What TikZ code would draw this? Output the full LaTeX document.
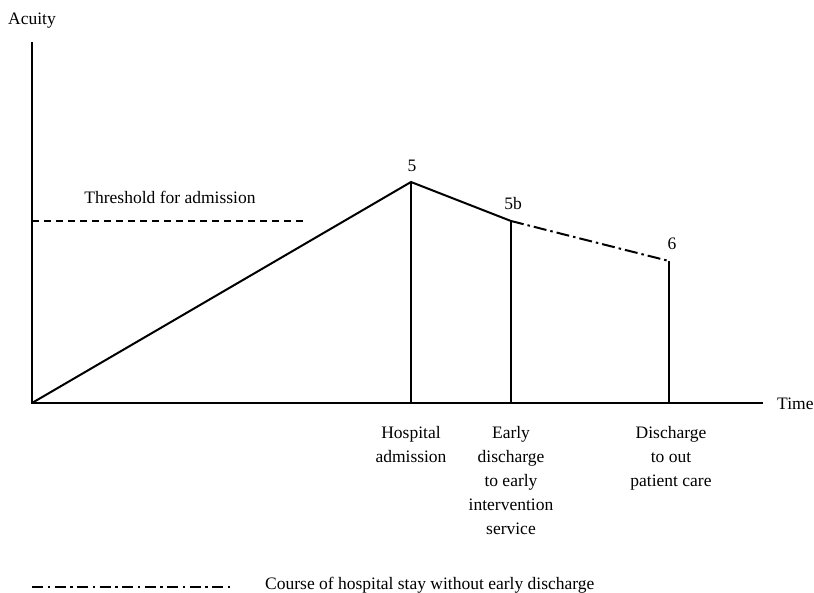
\documentclass[tikz,border=0pt]{standalone}
\usepackage{fontspec}
\setmainfont{Liberation Serif}
\begin{document}
\begin{tikzpicture}[x=1pt,y=-1pt,
  every node/.style={font=\fontsize{17.5}{24}\selectfont, inner sep=0pt},
  label/.style={anchor=base},
  caption/.style={anchor=north, align=center},
  axis/.style={line width=1.3pt},
  course/.style={line width=2pt},
  marker/.style={line width=1.3pt},
  threshold/.style={line width=1.3pt, dash pattern=on 7pt off 5pt},
  nodischarge/.style={line width=2pt, dash pattern=on 13pt off 4pt on 2.5pt off 4pt},
  legendline/.style={line width=2pt, dash pattern=on 11pt off 4.5pt on 2.5pt off 4.5pt}]
  \useasboundingbox (0,0) rectangle (814,592);

  % key points of the acuity curve
  \coordinate (O) at (32,403);
  \coordinate (ytop) at (32,42);
  \coordinate (xend) at (763,403);
  \coordinate (p5) at (411,182);
  \coordinate (p5b) at (511,221);
  \coordinate (p6) at (669,261);
  \coordinate (b5) at (411,403);
  \coordinate (b5b) at (511,403);
  \coordinate (b6) at (669,403);
  \coordinate (thA) at (32,221);
  \coordinate (thB) at (307,221);
  \coordinate (lgA) at (32,587);
  \coordinate (lgB) at (232,587);

  % axes
  \draw[axis] (ytop) -- (O) -- (xend);
  \node[label, anchor=base west] (acuity) at (8,24) {Acuity};
  \node[label, anchor=base west] (time) at (777,409) {Time};

  % admission threshold
  \draw[threshold] (thA) -- (thB);
  \node[label] (thlabel) at (170,203) {Threshold for admission};

  % course of acuity
  \draw[course] (O) -- (p5) -- (p5b);
  \draw[nodischarge] (p5b) -- (p6);
  \draw[marker] (p5) -- (b5);
  \draw[marker] (p5b) -- (b5b);
  \draw[marker] (p6) -- (b6);

  \node[label] (n5) at (412,171) {5};
  \node[label] (n5b) at (513,209) {5b};
  \node[label] (n6) at (672,249) {6};

  % events on the time axis
  \node[caption] (adm) at (411,426) {Hospital\\admission};
  \node[caption] (early) at (511,426) {Early\\discharge\\to early\\intervention\\service};
  \node[caption] (dis) at (671,426) {Discharge\\to out\\patient care};

  % legend
  \draw[legendline] (lgA) -- (lgB);
  \node[label, anchor=base west] (legtext) at (265,589) {Course of hospital stay without early discharge};
\end{tikzpicture}
\end{document}
